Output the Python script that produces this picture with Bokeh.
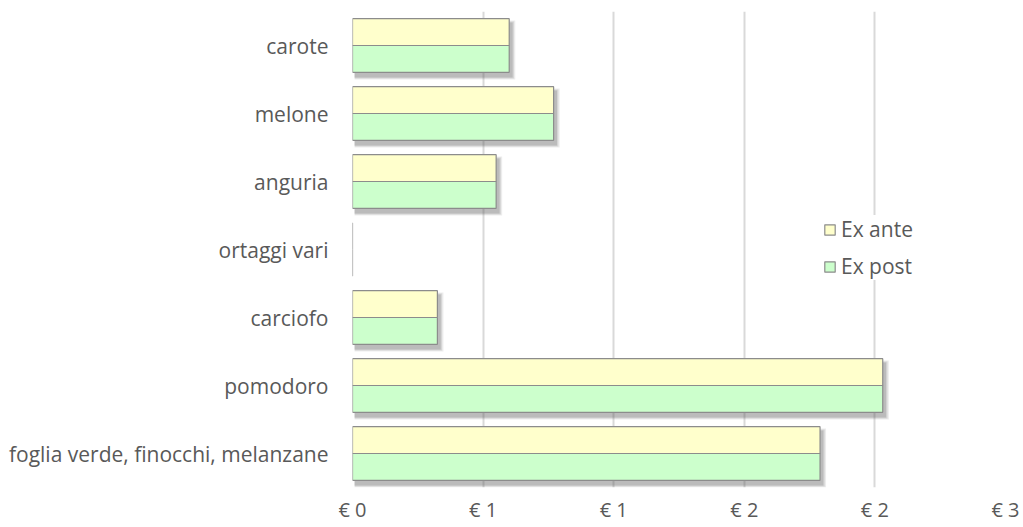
from bokeh.plotting import figure
from bokeh.models import FactorRange, Legend, LegendItem, CustomJSTickFormatter, FixedTicker, ColumnDataSource
from bokeh.transform import dodge
from bokeh.embed import file_html
from bokeh.resources import INLINE

categories = ["carote", "melone", "anguria", "ortaggi vari", "carciofo", "pomodoro",
              "foglia verde, finocchi, melanzane"]
ex_ante = [0.60, 0.77, 0.55, 0.0, 0.325, 2.03, 1.79]
ex_post = [0.60, 0.77, 0.55, 0.0, 0.325, 2.03, 1.79]
x_ticks = [0, 0.5, 1.0, 1.5, 2.0, 2.5]

FONT = "Open Sans"
TXT = "#595959"

cats_bottom_up = list(reversed(categories))
p = figure(width=1023, height=527, y_range=FactorRange(factors=cats_bottom_up, range_padding=0),
           x_range=(0, 2.5), output_backend="svg", toolbar_location=None,
           min_border_left=352, min_border_right=18, min_border_top=11, min_border_bottom=40)
p.outline_line_color = None
p.background_fill_color = "white"

src = ColumnDataSource(dict(cat=categories, ante=ex_ante, post=ex_post))

# drop shadow (layers) for non-zero bars
sh_cats = [c for c, v in zip(categories, ex_ante) if v > 0]
sh_vals = [max(a, b) for a, b in zip(ex_ante, ex_post) if max(a, b) > 0]
for alpha, grow in [(0.12, 0.013), (0.16, 0.008), (0.22, 0.003)]:
    ssrc = ColumnDataSource(dict(cat=sh_cats, right=[v + 0.010 + grow for v in sh_vals]))
    p.hbar(y=dodge("cat", -0.065, range=p.y_range), left=0.008, right="right", height=0.79 + grow * 6,
           source=ssrc, fill_color="#606060", fill_alpha=alpha, line_color=None)

r_ante = p.hbar(y=dodge("cat", 0.1975, range=p.y_range), left=0, right="ante", height=0.395,
                source=src, fill_color="#FFFFCC", line_color="#8c8c8c", line_width=1.2)
r_post = p.hbar(y=dodge("cat", -0.1975, range=p.y_range), left=0, right="post", height=0.395,
                source=src, fill_color="#CCFFCC", line_color="#8c8c8c", line_width=1.2)

# axes
p.xaxis.ticker = FixedTicker(ticks=x_ticks)
p.xaxis.formatter = CustomJSTickFormatter(code="return '\u20ac\u00a0' + Math.round(tick);")
p.xaxis.axis_line_color = None
p.xaxis.major_tick_line_color = None
p.xaxis.minor_tick_line_color = None
p.xaxis.major_label_standoff = 2
p.xaxis.major_label_text_font = FONT
p.xaxis.major_label_text_font_size = "20px"
p.xaxis.major_label_text_color = TXT

p.yaxis.axis_line_color = None
p.yaxis.major_tick_line_color = None
p.yaxis.minor_tick_line_color = None
p.yaxis.major_label_standoff = 18
p.yaxis.major_label_text_font = FONT
p.yaxis.major_label_text_font_size = "21px"
p.yaxis.major_label_text_color = TXT

p.xgrid.grid_line_color = "#d9d9d9"
p.xgrid.grid_line_width = 2
p.ygrid.grid_line_color = None

legend = Legend(items=[LegendItem(label="Ex ante", renderers=[r_ante]),
                       LegendItem(label="Ex post", renderers=[r_post])],
                location=(471, 207), glyph_width=13, glyph_height=13, label_height=13,
                spacing=9, padding=4, margin=0, border_line_color=None,
                background_fill_color="white", background_fill_alpha=1.0,
                label_text_font=FONT, label_text_font_size="21px", label_text_color=TXT,
                label_standoff=5)
p.add_layout(legend)

open("out.html", "w").write(file_html(p, INLINE))
